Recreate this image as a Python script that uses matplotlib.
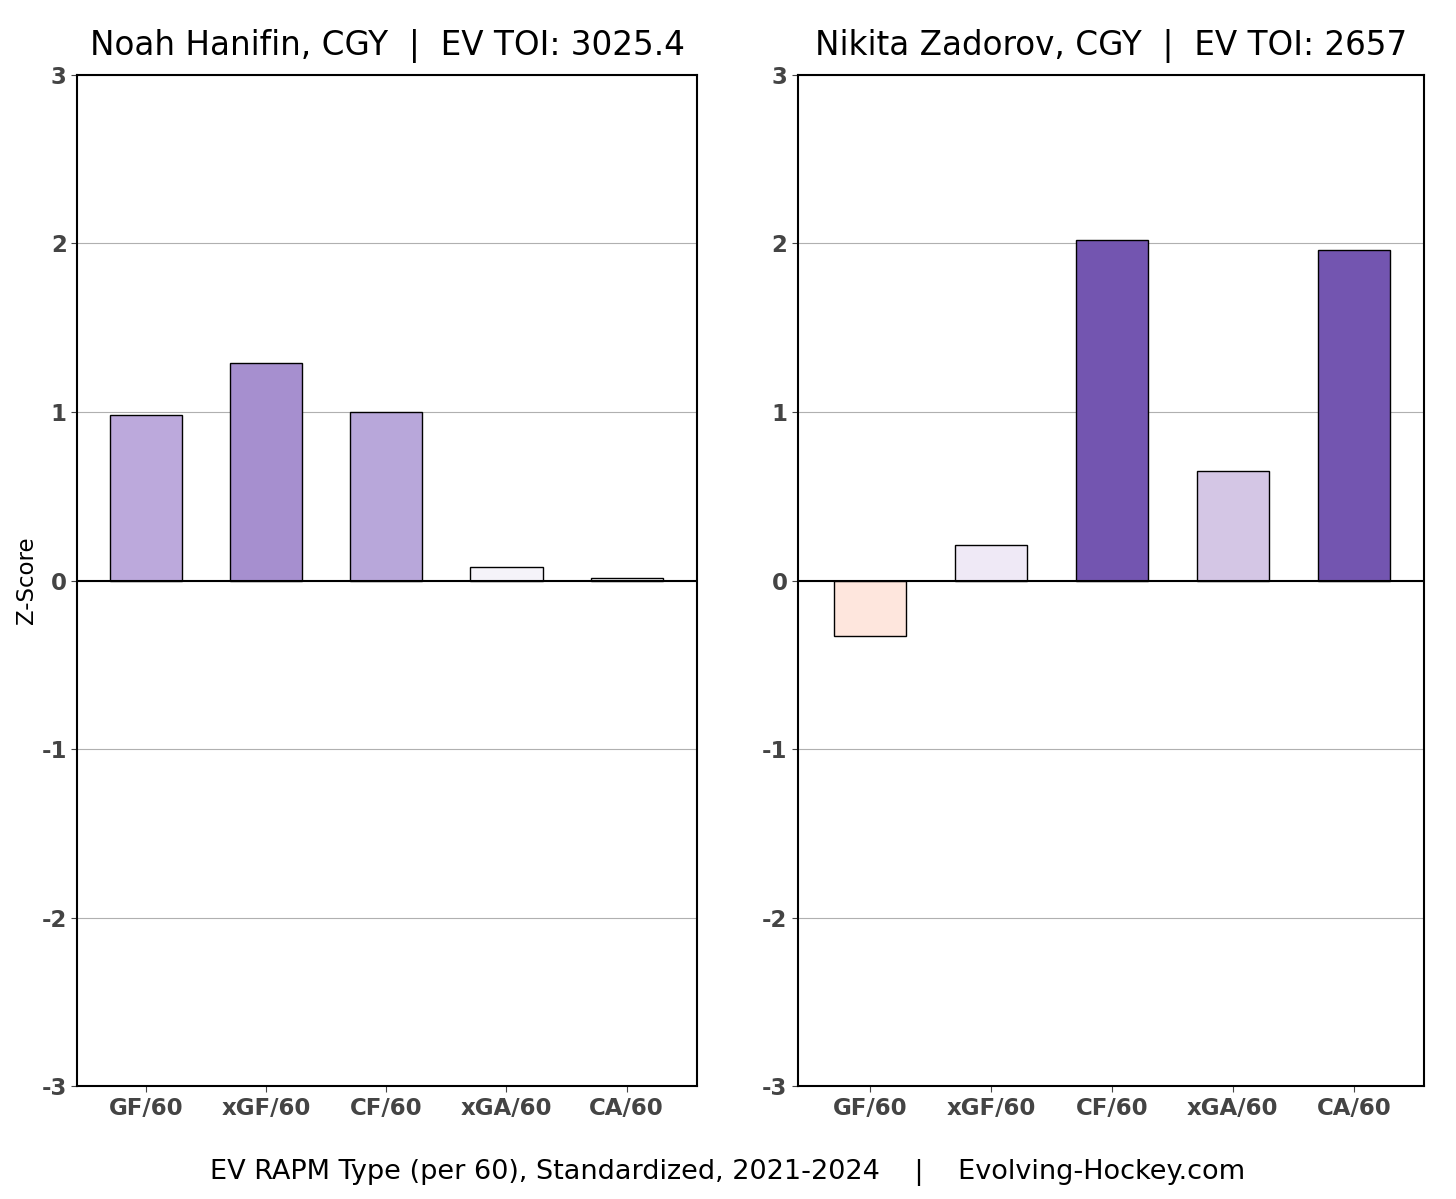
import matplotlib
matplotlib.use("Agg")
import matplotlib.pyplot as plt
import numpy as np

categories = ["GF/60", "xGF/60", "CF/60", "xGA/60", "CA/60"]
titles = ["Noah Hanifin, CGY  |  EV TOI: 3025.4", "Nikita Zadorov, CGY  |  EV TOI: 2657"]
hanifin = [0.98, 1.29, 1.00, 0.083, 0.018]
zadorov = [-0.33, 0.21, 2.02, 0.65, 1.96]
yticks = [-3, -2, -1, 0, 1, 2, 3]
footer = "EV RAPM Type (per 60), Standardized, 2021-2024    |    Evolving-Hockey.com"

colors_left = ["#bca9dc", "#a68fcf", "#b8a7da", "#f5f3f9", "#fbfafd"]
colors_right = ["#fee6dd", "#efe9f6", "#7355b0", "#d4c6e5", "#7355b0"]

fig = plt.figure(figsize=(14.56, 11.99), dpi=100)
ax1 = fig.add_axes([0.053, 0.094, 0.426, 0.8435])
ax2 = fig.add_axes([0.548, 0.094, 0.430, 0.8435])

for ax, vals, cols, title, xl in [(ax1, hanifin, colors_left, titles[0], (-0.575, 4.59)),
                                  (ax2, zadorov, colors_right, titles[1], (-0.595, 4.58))]:
    x = np.arange(len(categories))
    ax.bar(x, vals, width=0.6, color=cols, edgecolor="black", linewidth=1.0, zorder=3)
    ax.set_ylim(-3, 3)
    ax.set_xlim(*xl)
    ax.set_yticks(yticks)
    ax.set_yticklabels([str(t) for t in yticks])
    ax.set_xticks(x)
    ax.set_xticklabels(categories)
    ax.grid(axis="y", color="#b0b0b0", linewidth=0.8, zorder=0)
    ax.axhline(0, color="black", linewidth=1.5, zorder=4)
    for lab in ax.get_xticklabels() + ax.get_yticklabels():
        lab.set_fontweight("bold")
        lab.set_color("#444444")
        lab.set_fontsize(16.5)
    ax.tick_params(axis="both", length=4, color="#444444")
    for s in ax.spines.values():
        s.set_linewidth(1.5)
        s.set_color("black")
    ax.set_title(title, fontsize=23.5, pad=14)

ax1.set_ylabel("Z-Score", fontsize=16.5, labelpad=2)
fig.text(0.5, 0.0225, footer, ha="center", va="center", fontsize=19.5)

fig.savefig("out.png", dpi=100)
